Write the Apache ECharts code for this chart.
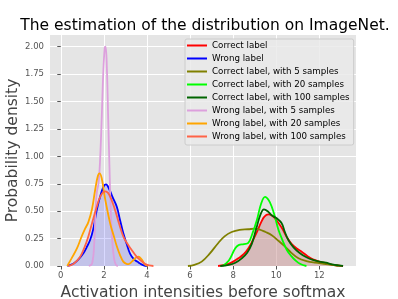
<!DOCTYPE html>
<html>
<head>
<meta charset="utf-8">
<script src="https://cdn.jsdelivr.net/npm/echarts@6/dist/echarts.min.js"></script>
<style>html,body{margin:0;padding:0;background:#fff}#c{width:398px;height:299px}</style>
</head>
<body>
<div id="c"></div>
<script>
var titleText = "The estimation of the distribution on ImageNet.";
var xName = "Activation intensities before softmax";
var yName = "Probability density";
var xTicks = [0, 2, 4, 6, 8, 10, 12];
var yTicks = [0, 0.25, 0.5, 0.75, 1.0, 1.25, 1.5, 1.75, 2.0];
var seriesNames = ["Correct label", "Wrong label", "Correct label, with 5 samples", "Correct label, with 20 samples", "Correct label, with 100 samples", "Wrong label, with 5 samples", "Wrong label, with 20 samples", "Wrong label, with 100 samples"];
var seriesColors = ["#ff0000", "#0000ff", "#808000", "#00ff00", "#006400", "#dda0dd", "#ffa500", "#ff6347"];

var correctX = [7.3, 7.6, 7.78, 8.0, 8.24, 8.5, 8.7, 8.9, 9.1, 9.3, 9.45, 9.63, 9.8, 10.0, 10.25, 10.5, 10.72, 10.95, 11.18, 11.45, 11.7, 12.0, 12.3, 12.6, 12.9, 13.1];
var correctY = [0, 0.01, 0.02, 0.04, 0.07, 0.11, 0.16, 0.23, 0.31, 0.40, 0.45, 0.47, 0.46, 0.42, 0.35, 0.26, 0.20, 0.16, 0.13, 0.09, 0.06, 0.04, 0.025, 0.01, 0.003, 0];

var wrongX = [0.3, 0.58, 0.8, 1.05, 1.2, 1.36, 1.5, 1.67, 1.85, 2.0, 2.1, 2.25, 2.4, 2.6, 2.75, 2.9, 3.06, 3.22, 3.4, 3.55, 3.7, 3.85, 4.0];
var wrongY = [0, 0.02, 0.055, 0.116, 0.17, 0.237, 0.33, 0.51, 0.65, 0.73, 0.745, 0.70, 0.63, 0.54, 0.42, 0.30, 0.20, 0.11, 0.06, 0.04, 0.02, 0.005, 0];

var c5X = [5.9, 6.2, 6.54, 6.9, 7.31, 7.6, 7.93, 8.3, 8.7, 9.0, 9.2, 9.5, 9.79, 10.1, 10.41, 10.7, 11.03, 11.4, 11.8, 12.2, 12.6, 13.0];
var c5Y = [0, 0.01, 0.04, 0.11, 0.21, 0.27, 0.31, 0.33, 0.335, 0.34, 0.335, 0.31, 0.28, 0.23, 0.176, 0.12, 0.07, 0.045, 0.03, 0.02, 0.01, 0];

var c20X = [7.5, 7.8, 8.09, 8.25, 8.5, 8.7, 8.9, 9.1, 9.3, 9.48, 9.65, 9.79, 9.95, 10.1, 10.3, 10.49, 10.7, 10.87, 11.1, 11.4];
var c20Y = [0, 0.05, 0.16, 0.19, 0.2, 0.21, 0.3, 0.42, 0.57, 0.63, 0.60, 0.54, 0.44, 0.33, 0.23, 0.146, 0.09, 0.055, 0.02, 0];

var c100X = [7.4, 7.8, 8.1, 8.4, 8.65, 8.86, 9.0, 9.1, 9.25, 9.43, 9.6, 9.8, 10.02, 10.25, 10.4, 10.56, 10.8, 11.1, 11.4, 11.7, 12.0, 12.3, 12.6, 12.9, 13.1];
var c100Y = [0, 0.01, 0.03, 0.07, 0.12, 0.2, 0.29, 0.36, 0.46, 0.517, 0.50, 0.46, 0.435, 0.39, 0.31, 0.237, 0.17, 0.116, 0.08, 0.055, 0.04, 0.03, 0.015, 0.005, 0];

var w5X = [1.3, 1.45, 1.55, 1.62, 1.68, 1.75, 1.82, 1.9, 1.97, 2.04, 2.08, 2.14, 2.2, 2.26, 2.32, 2.4, 2.48, 2.56, 2.65];
var w5Y = [0, 0.02, 0.2, 0.55, 0.68, 0.75, 0.95, 1.35, 1.75, 1.99, 2.0, 1.8, 1.35, 0.9, 0.5, 0.2, 0.06, 0.01, 0];

var w20X = [0.3, 0.5, 0.75, 0.95, 1.13, 1.28, 1.45, 1.6, 1.72, 1.8, 1.9, 2.05, 2.29, 2.45, 2.6, 2.75, 2.9, 3.05, 3.14, 3.3, 3.45, 3.6, 3.75, 3.9, 4.05];
var w20Y = [0, 0.07, 0.16, 0.26, 0.34, 0.40, 0.52, 0.70, 0.82, 0.845, 0.80, 0.62, 0.39, 0.28, 0.18, 0.10, 0.04, 0.02, 0.018, 0.04, 0.07, 0.085, 0.06, 0.015, 0];

var w100X = [0.35, 0.6, 0.9, 1.1, 1.28, 1.45, 1.67, 1.85, 2.06, 2.25, 2.52, 2.7, 2.9, 3.1, 3.29, 3.5, 3.68, 3.9, 4.1, 4.3];
var w100Y = [0, 0.02, 0.085, 0.17, 0.27, 0.39, 0.54, 0.64, 0.68, 0.65, 0.51, 0.39, 0.27, 0.20, 0.146, 0.09, 0.055, 0.02, 0.005, 0];

var allX = [correctX, wrongX, c5X, c20X, c100X, w5X, w20X, w100X];
var allY = [correctY, wrongY, c5Y, c20Y, c100Y, w5Y, w20Y, w100Y];
var fills = [ 'rgba(199,143,143,0.5)', 'rgba(0,0,255,0.15)', null, null, null, null, null, null ];

function zip(xs, ys) { return xs.map(function (x, i) { return [x, ys[i]]; }); }

var series = seriesNames.map(function (n, i) {
  var s = {
    name: n, type: 'line', data: zip(allX[i], allY[i]),
    smooth: 0.4, showSymbol: false, symbol: 'none',
    lineStyle: { color: seriesColors[i], width: 1.8 },
    itemStyle: { color: seriesColors[i] },
    z: 2 + i
  };
  if (fills[i]) s.areaStyle = { color: fills[i], opacity: 1 };
  return s;
});

var chart = echarts.init(document.getElementById('c'), null, { renderer: 'canvas' });
chart.setOption({
  animation: false,
  backgroundColor: '#ffffff',
  title: { text: titleText, left: 200, top: 13, textAlign: 'center',
    textStyle: { fontFamily: 'DejaVu Sans', fontSize: 15.5, fontWeight: 'normal', color: '#000' } },
  grid: { left: 50, top: 35, right: 42, bottom: 33, show: true, backgroundColor: '#e5e5e5', borderWidth: 0,
    containLabel: false, outerBoundsMode: 'none' },
  legend: {
    orient: 'vertical', left: 185, top: 39,
    data: seriesNames.map(function (n) { return { name: n, icon: 'rect' }; }),
    itemWidth: 20, itemHeight: 2, itemGap: 2,
    padding: [1, 4, 3, 2],
    backgroundColor: 'rgba(234,234,234,0.85)', borderColor: '#cccccc', borderWidth: 1, borderRadius: 2,
    textStyle: { fontFamily: 'DejaVu Sans', fontSize: 8.7, color: '#000', lineHeight: 11 },
    selectedMode: false
  },
  xAxis: {
    type: 'value', min: -0.5, max: 13.7,
    name: xName, nameLocation: 'middle', nameGap: 13,
    nameTextStyle: { fontFamily: 'DejaVu Sans', fontSize: 15.5, color: '#444' },
    axisLine: { show: false },
    axisTick: { show: true, length: 3.5, lineStyle: { color: '#555' }, customValues: xTicks },
    axisLabel: { fontFamily: 'DejaVu Sans', fontSize: 8.5, color: '#555', margin: 5, customValues: xTicks },
    splitLine: { show: true, lineStyle: { color: '#ffffff', width: 1 } }
  },
  yAxis: {
    type: 'value', min: 0, max: 2.107,
    name: yName, nameLocation: 'middle', nameGap: 29, nameMoveOverlap: false,
    nameTextStyle: { fontFamily: 'DejaVu Sans', fontSize: 15.5, color: '#444' },
    axisLine: { show: false },
    axisTick: { show: true, length: 3.5, lineStyle: { color: '#555' }, customValues: yTicks },
    axisLabel: { fontFamily: 'DejaVu Sans', fontSize: 8.5, color: '#555', margin: 6, customValues: yTicks,
      formatter: function (v) { return v.toFixed(2); } },
    splitLine: { show: true, lineStyle: { color: '#ffffff', width: 1 } }
  },
  series: series
});
</script>
</body>
</html>
